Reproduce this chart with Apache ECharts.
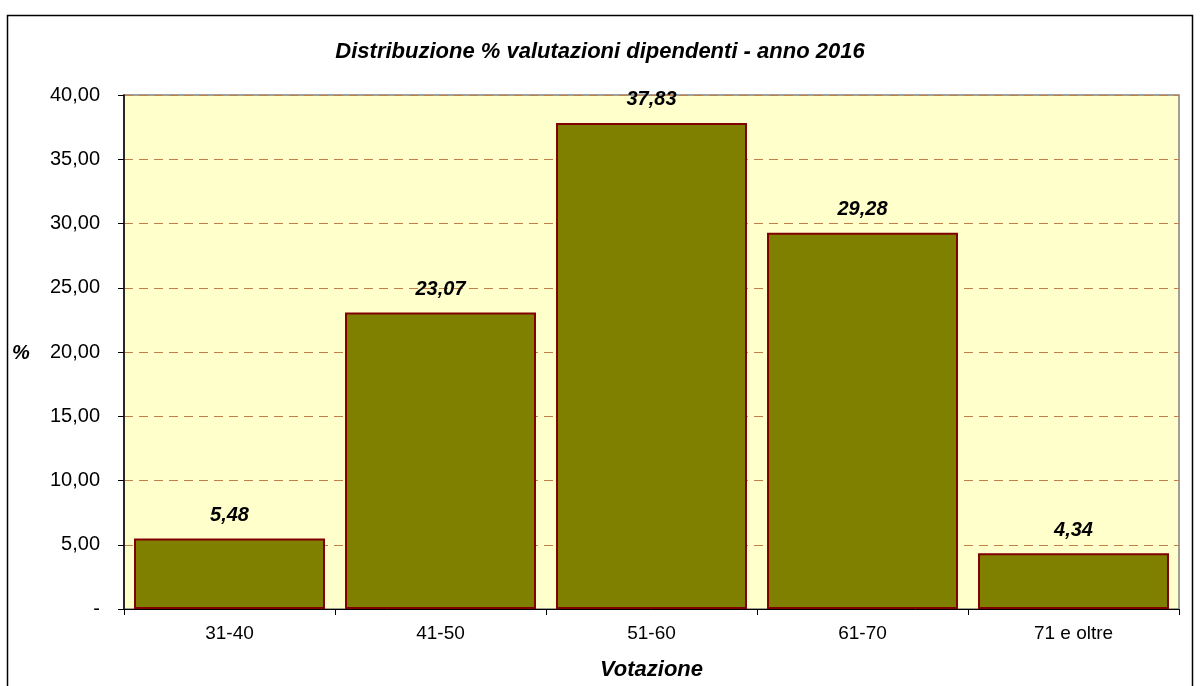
<!DOCTYPE html>
<html lang="it">
<head>
<meta charset="utf-8">
<script src="https://cdn.jsdelivr.net/npm/echarts@6/dist/echarts.min.js"></script>
<style>
  html, body { margin: 0; padding: 0; background: #fff; }
  #chart { width: 1200px; height: 686px; }
</style>
</head>
<body>
<div id="chart"></div>
<script>
var categories = ['31-40', '41-50', '51-60', '61-70', '71 e oltre'];
var values = [5.48, 23.07, 37.83, 29.28, 4.34];
var yTicks = [0, 5, 10, 15, 20, 25, 30, 35, 40];

function fmt(v) {
    if (v === 0) return '-';
    return v.toFixed(2).replace('.', ',');
}

var chart = echarts.init(document.getElementById('chart'));
var font = 'Liberation Sans, Arial, sans-serif';

var option = {
    animation: false,
    backgroundColor: '#ffffff',
    title: {
        text: 'Distribuzione % valutazioni dipendenti - anno 2016',
        left: 'center',
        top: 36,
        textStyle: { fontFamily: font, fontSize: 22, fontWeight: 'bold', fontStyle: 'italic', color: '#000' }
    },
    graphic: [{
        type: 'rect',
        shape: { x: 7.5, y: 15.5, width: 1185, height: 680 },
        style: { fill: null, stroke: '#000', lineWidth: 1.5 },
        silent: true
    }, {
        type: 'text',
        left: 12,
        top: 343,
        style: { text: '%', font: 'italic bold 20px ' + font, fill: '#000' }
    }],
    grid: { left: 124, right: 21, top: 95, bottom: 73, show: true, backgroundColor: '#FFFFCC', borderColor: '#808080', borderWidth: 1.5 },
    xAxis: {
        type: 'category',
        data: categories,
        name: 'Votazione',
        nameLocation: 'middle',
        nameGap: 50,
        nameTextStyle: { fontFamily: font, fontSize: 22, fontWeight: 'bold', fontStyle: 'italic', color: '#000' },
        axisLine: { lineStyle: { color: '#000', width: 1 } },
        axisTick: { show: true, length: 6, lineStyle: { color: '#000' } },
        axisLabel: { fontFamily: font, fontSize: 19, color: '#000', margin: 15 }
    },
    yAxis: {
        type: 'value',
        min: yTicks[0],
        max: yTicks[yTicks.length - 1],
        interval: 5,
        axisLine: { show: true, lineStyle: { color: '#000', width: 1.5 } },
        axisTick: { show: true, length: 6, lineStyle: { color: '#000' } },
        axisLabel: { fontFamily: font, fontSize: 20, color: '#000', margin: 24, formatter: fmt },
        splitLine: { show: true, lineStyle: { color: '#C08048', type: [9, 6], width: 1 } }
    },
    series: [{
        type: 'bar',
        data: values,
        barCategoryGap: '9.5%',
        itemStyle: { color: '#808000', borderColor: '#800000', borderWidth: 2 },
        label: {
            show: true,
            position: 'top',
            distance: 13,
            formatter: function (p) { return fmt(p.value); },
            fontFamily: font, fontSize: 20, fontWeight: 'bold', fontStyle: 'italic', color: '#000'
        }
    }]
};

chart.setOption(option);
</script>
</body>
</html>
